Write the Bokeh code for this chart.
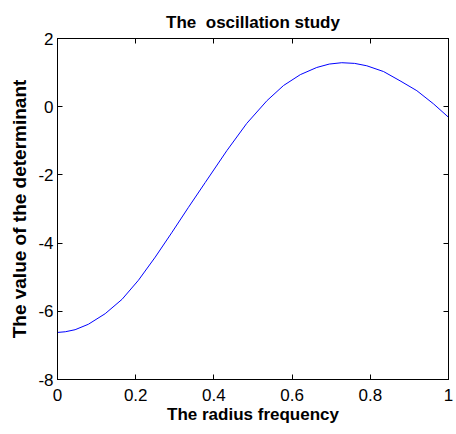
from bokeh.plotting import figure
from bokeh.models import LinearAxis, FixedTicker, Range1d
from bokeh.embed import file_html
from bokeh.resources import INLINE

# Data
radius_frequency = [0, 0.02, 0.045, 0.079, 0.122, 0.165, 0.207, 0.25, 0.293, 0.335,
                    0.378, 0.433, 0.484, 0.536, 0.578, 0.621, 0.663, 0.695, 0.727,
                    0.76, 0.791, 0.834, 0.876, 0.919, 0.962, 1.0]
determinant = [-6.62, -6.60, -6.54, -6.38, -6.07, -5.65, -5.09, -4.41, -3.68, -2.95,
               -2.22, -1.29, -0.49, 0.18, 0.62, 0.94, 1.15, 1.25, 1.29,
               1.27, 1.20, 1.03, 0.76, 0.47, 0.08, -0.31]

x_ticks = [0, 0.2, 0.4, 0.6, 0.8, 1]
x_tick_labels = ["0", "0.2", "0.4", "0.6", "0.8", "1"]
y_ticks = [-8, -6, -4, -2, 0, 2]
y_tick_labels = ["-8", "-6", "-4", "-2", "0", "2"]

FONT = "Liberation Sans"

p = figure(width=456, height=434, output_backend="svg", toolbar_location=None,
           x_range=Range1d(0, 1), y_range=Range1d(-8, 2),
           title="The \u00a0oscillation study",
           min_border_left=57, min_border_right=8, min_border_top=38, min_border_bottom=55)
p.border_fill_color = "white"
p.background_fill_color = "white"
p.grid.visible = False
p.outline_line_color = "black"
p.outline_line_width = 1
p.outline_line_alpha = 1

p.title.align = "center"
p.title.text_font = FONT
p.title.text_font_size = "17px"
p.title.text_font_style = "bold"
p.title.text_color = "black"
p.title.standoff = 13

p.line(radius_frequency, determinant, line_color="#0000ff", line_width=1)

def style(ax, ticks, labels, show_labels=True):
    ax.ticker = FixedTicker(ticks=ticks)
    ax.major_label_overrides = {t: l for t, l in zip(ticks, labels)}
    ax.minor_tick_line_color = None
    ax.major_tick_in = 5
    ax.major_tick_out = 0
    ax.major_tick_line_color = "black"
    ax.axis_line_color = "black"
    ax.major_label_text_font = FONT
    ax.major_label_text_font_size = "17px"
    ax.major_label_text_color = "black"
    ax.axis_label_text_font = FONT
    ax.axis_label_text_font_size = "17px"
    ax.axis_label_text_font_style = "bold"
    ax.axis_label_text_color = "black"
    if not show_labels:
        ax.major_label_text_font_size = "0px"
        ax.major_label_text_color = None
        ax.major_label_text_alpha = 0
        ax.major_label_standoff = 0

style(p.xaxis[0], x_ticks, x_tick_labels)
style(p.yaxis[0], y_ticks, y_tick_labels)
p.xaxis[0].axis_label = "The radius frequency"
p.yaxis[0].axis_label = "The value of the determinant"
p.yaxis[0].axis_label_text_font_size = "19px"
p.xaxis[0].major_label_standoff = 9
p.xaxis[0].axis_label_standoff = 1
p.yaxis[0].major_label_standoff = 4
p.yaxis[0].axis_label_standoff = 5

top_ax = LinearAxis()
right_ax = LinearAxis()
style(top_ax, x_ticks, x_tick_labels, show_labels=False)
style(right_ax, y_ticks, y_tick_labels, show_labels=False)
p.add_layout(top_ax, "above")
p.add_layout(right_ax, "right")

open("out.html", "w").write(file_html(p, INLINE))
